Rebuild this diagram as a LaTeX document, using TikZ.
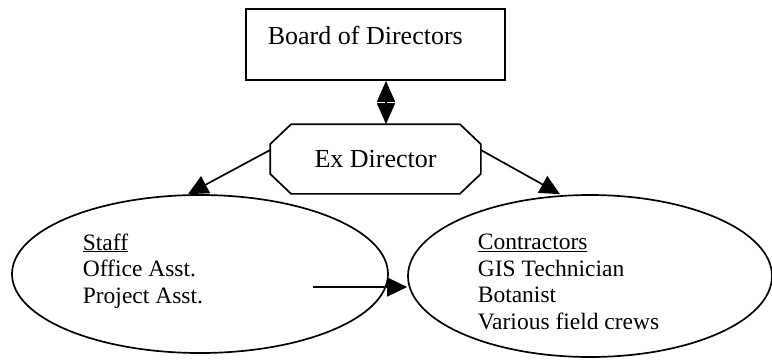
\documentclass[tikz,border=0pt]{standalone}
\usepackage{fontspec}
\setmainfont{Liberation Serif}
\usetikzlibrary{shapes.geometric,arrows.meta}
\begin{document}
\begin{tikzpicture}[x=1pt,y=-1pt, line width=1.7pt,
  big/.style={font=\fontsize{26}{29}\selectfont, inner sep=0pt},
  txt/.style={font=\fontsize{23.5}{26.5}\selectfont, align=left, inner sep=0pt, anchor=base west},
  oval/.style={draw, ellipse, inner sep=0pt},
  tip/.style={-{Triangle[length=20pt,width=19pt]}},
  dtip/.style={{Triangle[length=21pt,width=18pt]}-{Triangle[length=21pt,width=18pt]}}]
\useasboundingbox (0,0) rectangle (772,360);
% board
\node[draw, rectangle, minimum width=259pt, minimum height=71pt, inner sep=0pt] (board) at (375.5,44.5) {};
\node[big, anchor=base west] (boardtxt) at (267,44) {Board of Directors};
% ex director
\node[big, minimum width=209pt, minimum height=68pt] (ex) at (375.5,159) {Ex Director};
\draw ([xshift=21pt]ex.north west) -- ([xshift=-21pt]ex.north east)
  -- ([yshift=-20pt]ex.north east) -- ([yshift=20pt]ex.south east)
  -- ([xshift=-21pt]ex.south east) -- ([xshift=21pt]ex.south west)
  -- ([yshift=20pt]ex.south west) -- ([yshift=-20pt]ex.north west) -- cycle;
% ellipses
\node[oval, minimum width=376pt, minimum height=158pt] (staff) at (200,274) {};
\node[oval, minimum width=364pt, minimum height=162pt] (contr) at (590,276) {};
\node[txt] (stafftxt) at (82,303) {\underline{Staff}\\Office Asst.\\Project Asst.};
\node[txt] (contrtxt) at (477,329) {\underline{Contractors}\\GIS Technician\\Botanist\\Various field crews};
% connectors
\draw[dtip] ([xshift=10.5pt]board.south) -- ([xshift=10.5pt]ex.north);
\draw[tip] ([yshift=9pt]ex.west) -- ([xshift=-12pt]staff.north);
\draw[tip] ([yshift=9pt]ex.east) -- ([xshift=-30pt]contr.north);
\coordinate (hstart) at (313,287);
\draw[tip] (hstart) -- (contr.west |- hstart);
\end{tikzpicture}
\end{document}
